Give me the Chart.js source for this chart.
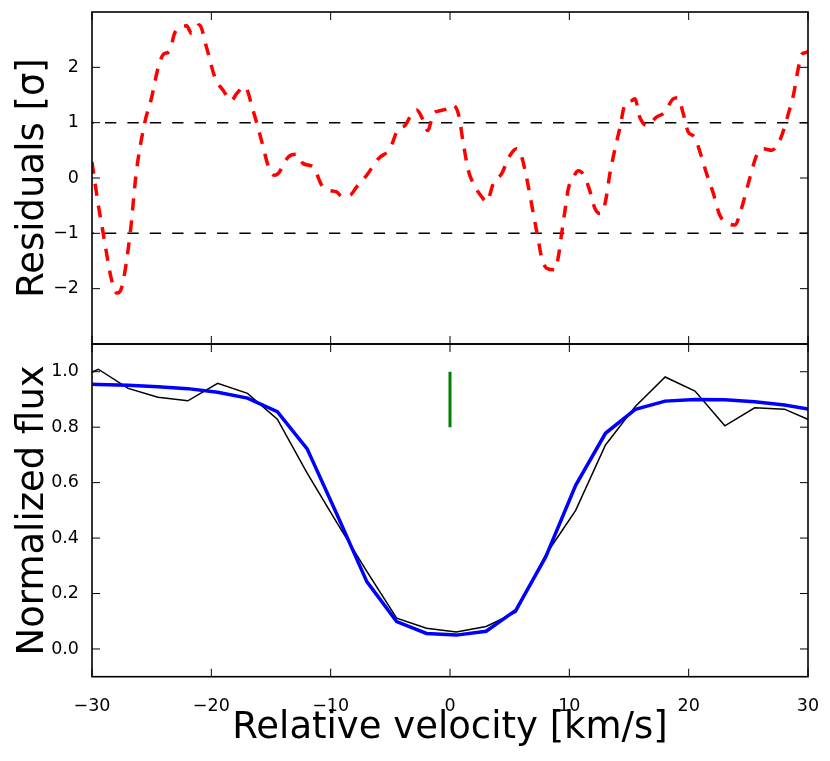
<!DOCTYPE html>
<html>
<head>
<meta charset="utf-8">
<script src="https://cdn.jsdelivr.net/npm/chart.js@4.4.0/dist/chart.umd.min.js"></script>
<style>
  body { margin: 0; background: #fff; }
  #wrap { position: relative; width: 830px; height: 761px; }
  canvas { position: absolute; left: 0; }
</style>
</head>
<body>
<div id="wrap">
  <canvas id="resid" width="830" height="345" style="top:0"></canvas>
  <canvas id="flux" width="830" height="422" style="top:339px"></canvas>
</div>
<script>
// residuals of the fit (top panel)
const resVel = [-30.0, -29.5, -29.06, -28.36, -27.9, -27.5, -26.8, -26.3, -25.6, -25.0,
  -24.45, -24.0, -23.5, -23.05, -22.07, -21.65, -21.0, -20.4, -19.7, -19.0,
  -18.3, -17.9, -17.2, -16.5, -15.8, -15.2, -14.7, -14.4, -13.55, -12.85,
  -12.3, -11.46, -10.75, -10.2, -9.5, -9.08, -8.38, -7.82, -6.98, -6.0,
  -5.03, -4.33, -3.77, -3.21, -2.79, -2.24, -1.87, -1.4, -0.98, -0.28,
  0.14, 0.7, 1.12, 1.53, 1.95, 2.66, 3.08, 3.63, 4.33, 5.03,
  5.59, 6.01, 6.57, 6.98, 7.4, 7.69, 8.1, 8.8, 9.08, 9.36,
  9.64, 9.92, 10.28, 10.76, 11.3, 11.7, 12.15, 12.57, 12.85, 13.1,
  13.4, 13.8, 14.25, 14.67, 15.23, 15.5, 15.9, 16.5, 17.3, 18.0,
  18.7, 19.1, 19.55, 19.97, 20.5, 20.95, 21.5, 22.07, 22.6, 23.2,
  23.9, 24.3, 24.7, 25.15, 25.7, 26.25, 26.96, 27.5, 27.9, 28.35,
  28.8, 29.2, 29.5, 29.9, 30.0];
const resVal = [0.29, -0.45, -1.0, -1.84, -2.08, -1.97, -1.0, 0.08, 0.98, 1.46,
  2.0, 2.24, 2.29, 2.63, 2.75, 2.61, 2.77, 2.36, 1.82, 1.58,
  1.4, 1.52, 1.65, 1.22, 0.68, 0.2, 0.05, 0.08, 0.38, 0.43,
  0.26, 0.2, -0.13, -0.22, -0.25, -0.33, -0.31, -0.16, 0.05, 0.35,
  0.53, 0.89, 0.95, 1.16, 1.23, 1.04, 0.86, 1.16, 1.21, 1.25,
  1.32, 1.16, 0.62, 0.14, -0.1, -0.34, -0.43, -0.1, 0.08, 0.41,
  0.53, 0.38, -0.16, -0.64, -1.12, -1.45, -1.63, -1.66, -1.42, -1.0,
  -0.58, -0.19, -0.01, 0.13, 0.02, -0.22, -0.55, -0.64, -0.58, -0.34,
  0.08, 0.5, 0.92, 1.34, 1.4, 1.43, 1.1, 0.95, 1.1, 1.19,
  1.43, 1.45, 1.16, 0.83, 0.74, 0.47, 0.08, -0.28, -0.67, -0.81,
  -0.85, -0.64, -0.34, 0.02, 0.41, 0.53, 0.5, 0.62, 0.83, 1.16,
  1.52, 2.0, 2.24, 2.27, 2.3];
const sigmaLevels = [1, -1];

// line profile (bottom panel)
const velocity = [-31.97, -29.47, -26.97, -24.47, -21.97, -19.47, -16.97, -14.47, -11.97,
  -9.47, -6.97, -4.47, -1.97, 0.53, 3.03, 5.53, 8.03, 10.53, 13.03, 15.53,
  18.03, 20.53, 23.03, 25.53, 28.03, 30.53];
const fluxObs = [0.96, 1.009, 0.94, 0.908, 0.895, 0.958, 0.922, 0.829, 0.634,
  0.455, 0.28, 0.111, 0.075, 0.061, 0.081, 0.133, 0.34, 0.5, 0.736, 0.875,
  0.981, 0.93, 0.805, 0.87, 0.865, 0.818];
const fluxModel = [0.957, 0.954, 0.951, 0.946, 0.939, 0.926, 0.905, 0.856, 0.722,
  0.485, 0.243, 0.099, 0.056, 0.05, 0.064, 0.14, 0.333, 0.59, 0.778, 0.864,
  0.894, 0.9, 0.899, 0.892, 0.88, 0.862];
const markVel = 0;
const markFlux = [0.8, 1.0];

// ticks
const xTicks = [-30, -20, -10, 0, 10, 20, 30];
const resTicks = [-2, -1, 0, 1, 2];
const fluxTicks = [0, 0.2, 0.4, 0.6, 0.8, 1.0];

Chart.defaults.font.family = "'DejaVu Sans', sans-serif";
Chart.defaults.color = '#000';

const toPts = (xs, ys) => xs.map((v, i) => ({ x: v, y: ys[i] }));
const minus = v => String(v).replace('-', '\u2212');
const setTicks = vals => s => { s.ticks = vals.map(v => ({ value: v })); };

// box round the plot with inward tick marks on all four sides
function framePlugin(yVals) {
  return {
    id: 'frame',
    afterDatasetsDraw(chart) {
      const { ctx, chartArea: a } = chart;
      const xs = chart.scales.x, ys = chart.scales.y;
      ctx.save();
      ctx.strokeStyle = '#000';
      ctx.lineWidth = 1;
      ctx.beginPath();
      xTicks.forEach(v => {
        const p = xs.getPixelForValue(v);
        ctx.moveTo(p, a.top); ctx.lineTo(p, a.top + 8);
        ctx.moveTo(p, a.bottom); ctx.lineTo(p, a.bottom - 8);
      });
      yVals.forEach(v => {
        const p = ys.getPixelForValue(v);
        ctx.moveTo(a.left, p); ctx.lineTo(a.left + 8, p);
        ctx.moveTo(a.right, p); ctx.lineTo(a.right - 8, p);
      });
      ctx.stroke();
      ctx.lineWidth = 1.6;
      ctx.strokeRect(a.left, a.top, a.right - a.left, a.bottom - a.top);
      ctx.restore();
    }
  };
}

function yAxis(min, max, ticks, title, fmt) {
  return {
    type: 'linear', min: min, max: max,
    afterBuildTicks: setTicks(ticks),
    afterFit: s => { s.width = 92; s.paddingTop = 0; s.paddingBottom = 0; },
    grid: { display: false },
    border: { display: false },
    ticks: { font: { size: 17.5 }, color: '#000', padding: 5, callback: fmt },
    title: { display: true, text: title, color: '#000', font: { size: 37 }, padding: { top: 11, bottom: 0 } }
  };
}

new Chart(document.getElementById('resid'), {
  type: 'line',
  data: {
    datasets: [
      { data: toPts(resVel, resVal), borderColor: '#ff0000', borderWidth: 3.5,
        borderDash: [12, 10], cubicInterpolationMode: 'monotone', pointRadius: 0, clip: 0 }
    ].concat(sigmaLevels.map(s => ({
      data: [{ x: xTicks[0], y: s }, { x: xTicks[xTicks.length - 1], y: s }],
      borderColor: '#000', borderWidth: 1.5, borderDash: [11.3, 11.1], borderDashOffset: 9.4,
      pointRadius: 0, clip: 0
    })))
  },
  options: {
    responsive: false,
    animation: false,
    layout: { padding: { left: 0, right: 22, top: 12, bottom: 1 } },
    plugins: { legend: { display: false }, tooltip: { enabled: false } },
    scales: {
      x: { type: 'linear', min: -30, max: 30, display: false, afterBuildTicks: setTicks(xTicks) },
      y: yAxis(-3, 3, resTicks, 'Residuals [\u03c3]', minus)
    }
  },
  plugins: [framePlugin(resTicks)]
});

new Chart(document.getElementById('flux'), {
  type: 'line',
  data: {
    datasets: [
      { data: toPts(velocity, fluxModel), borderColor: '#0000ff', borderWidth: 3.5,
        tension: 0, pointRadius: 0, clip: 0 },
      { data: toPts(velocity, fluxObs), borderColor: '#000', borderWidth: 1.5,
        tension: 0, pointRadius: 0, clip: 0 },
      { data: markFlux.map(f => ({ x: markVel, y: f })), borderColor: '#008000', borderWidth: 3,
        pointRadius: 0, clip: 0 }
    ]
  },
  options: {
    responsive: false,
    animation: false,
    layout: { padding: { left: 0, right: 22, top: 5, bottom: 0 } },
    plugins: { legend: { display: false }, tooltip: { enabled: false } },
    scales: {
      x: {
        type: 'linear', min: -30, max: 30,
        afterBuildTicks: setTicks(xTicks),
        afterFit: s => { s.height = 84.3; s.paddingLeft = 0; s.paddingRight = 0; },
        grid: { display: false },
        border: { display: false },
        ticks: { font: { size: 17.5 }, color: '#000', padding: 11, maxRotation: 0, callback: minus },
        title: { display: true, text: 'Relative velocity [km/s]', color: '#000', font: { size: 37 }, padding: { top: 0, bottom: 10 } }
      },
      y: yAxis(-0.1, 1.1, fluxTicks, 'Normalized flux', v => v.toFixed(1))
    }
  },
  plugins: [framePlugin(fluxTicks)]
});
</script>
</body>
</html>
